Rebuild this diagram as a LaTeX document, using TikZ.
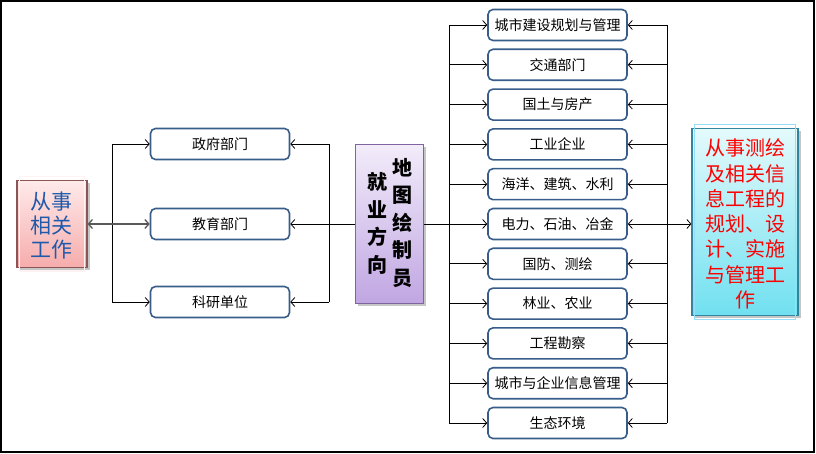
\documentclass[tikz,border=0pt]{standalone}
\usepackage{fontspec}
\newfontfamily\cjk{Noto Sans CJK SC}
\usetikzlibrary{arrows.meta,shadows}
\definecolor{boxblue}{RGB}{56,93,138}
\definecolor{pinktop}{RGB}{255,234,234}
\definecolor{pinkbot}{RGB}{246,172,172}
\definecolor{pinkline}{RGB}{140,85,85}
\definecolor{textblue}{RGB}{31,90,170}
\definecolor{purtop}{RGB}{242,236,250}
\definecolor{purbot}{RGB}{192,166,226}
\definecolor{purline}{RGB}{128,100,162}
\definecolor{cyantop}{RGB}{228,250,252}
\definecolor{cyanbot}{RGB}{112,224,240}
\definecolor{cyanline}{RGB}{49,133,156}
\begin{document}
\begin{tikzpicture}[x=1pt,y=-1pt,
  box/.style={draw=boxblue,line width=1.6pt,rounded corners=5pt,fill=white,
    minimum width=139pt,minimum height=31pt,inner sep=0pt,
    font=\cjk\fontsize{14}{16}\selectfont},
  arr/.style={-{Straight Barb[length=4pt,width=9pt]},line width=0.8pt},
  link/.style={line width=0.8pt},
  dbl/.style={{Straight Barb[length=4pt,width=9pt]}-{Straight Barb[length=4pt,width=9pt]},line width=0.8pt},
  bigshadow/.style={drop shadow={shadow xshift=2.5pt,shadow yshift=-2.5pt,opacity=0.45}},
  vtext/.style={align=center,inner sep=0pt}]
\useasboundingbox (0,0) rectangle (816,454);
\draw[line width=1.5pt] (1,1) rectangle (814,452);

% left big box
\node[bigshadow,draw=pinkline,line width=1.2pt,top color=pinktop,bottom color=pinkbot,
  minimum width=70pt,minimum height=87pt,inner sep=0pt] (S) at (52,224) {};
\draw[white!80!pink,line width=1.2pt] ([xshift=3pt,yshift=-3pt]S.south west) rectangle ([xshift=-3pt,yshift=3pt]S.north east);
\node[vtext,text=textblue,font=\cjk\fontsize{21}{24}\selectfont] (St) at (51,226) {从事\\相关\\工作};

% left column boxes
\node[box] (L1) at (220,144) {政府部门};
\node[box] (L2) at (220,224) {教育部门};
\node[box] (L3) at (220,302) {科研单位};

% middle box
\node[bigshadow,draw=purline,line width=1pt,top color=purtop,bottom color=purbot,
  minimum width=68pt,minimum height=159pt,inner sep=0pt] (M) at (389,224) {};
\node[vtext,font=\cjk\bfseries\fontsize{20}{27.5}\selectfont] (Mr) at (402,223) {地\\图\\绘\\制\\员};
\node[vtext,font=\cjk\bfseries\fontsize{20}{27.5}\selectfont] (Ml) at (377,223.5) {就\\业\\方\\向};

% right column boxes
\foreach \t [count=\i] in {城市建设规划与管理,交通部门,国土与房产,工业企业,海洋、建筑、水利,电力、石油、冶金,国防、测绘,林业、农业,工程勘察,城市与企业信息管理,生态环境}{
  \node[box] (B\i) at (557.5,{25+39.8*(\i-1)}) {\t};
}

% right big box
\node[bigshadow,draw=cyanline,line width=1.2pt,top color=cyantop,bottom color=cyanbot,
  minimum width=106pt,minimum height=187pt,inner sep=0pt] (R) at (745,222) {};
\draw[white!60!cyan,line width=1pt] ([xshift=3pt,yshift=-3pt]R.south west) rectangle ([xshift=-3pt,yshift=3pt]R.north east);
\node[vtext,text=red,font=\cjk\fontsize{20}{25.3}\selectfont] (Rt) at (745,224) {从事测绘\\及相关信\\息工程的\\规划、设\\计、实施\\与管理工\\作};

% vertical rails
\coordinate (vA) at (112,0);
\coordinate (vB) at (329,0);
\coordinate (vC) at (449,0);
\coordinate (vD) at (667,0);

% left connectors
\draw[link] (L1.west -| vA) -- (L3.west -| vA);
\foreach \i in {1,3} \draw[arr] (L\i.west -| vA) -- (L\i.west);
\draw[dbl,draw=gray!70!black,line width=1.3pt] (S.east) -- (L2.west);
\draw[link] (L1.east -| vB) -- (L3.east -| vB);
\foreach \i in {1,3} \draw[arr] (L\i.east -| vB) -- (L\i.east);
\draw[arr] (M.west) -- (L2.east);

% right connectors
\draw[link] (M.east) -- (B6.west -| vC);
\draw[link] (B1.west -| vC) -- (B11.west -| vC);
\foreach \i in {1,...,11} \draw[arr] (B\i.west -| vC) -- (B\i.west);
\draw[link] (B1.east -| vD) -- (B11.east -| vD);
\foreach \i in {1,...,5,7,8,9,10,11} \draw[arr] (B\i.east -| vD) -- (B\i.east);
\draw[dbl] (B6.east) -- (B6.east -| R.west);
\end{tikzpicture}
\end{document}
